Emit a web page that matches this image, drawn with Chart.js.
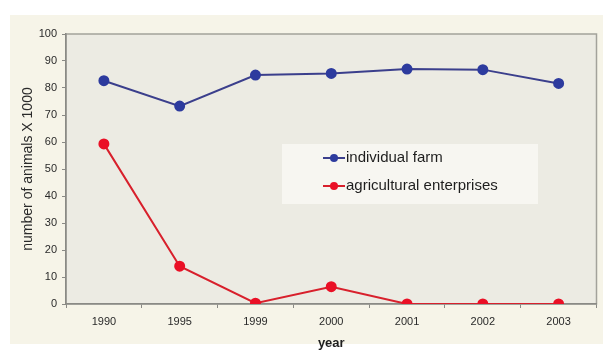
<!DOCTYPE html>
<html>
<head>
<meta charset="utf-8">
<script src="https://cdn.jsdelivr.net/npm/chart.js@4.4.1/dist/chart.umd.min.js"></script>
<style>
  html, body { margin: 0; padding: 0; background: #ffffff; }
  #wrap { width: 603px; height: 354px; }
</style>
</head>
<body>
<div id="wrap"><canvas id="animalsChart" width="603" height="354"></canvas></div>
<script>
// years on the x axis
const years = ['1990', '1995', '1999', '2000', '2001', '2002', '2003'];
// number of animals (thousands)
const individualFarm = [82.7, 73.3, 84.8, 85.4, 87.0, 86.8, 81.7];
const agriculturalEnterprises = [59.3, 14.0, 0.3, 6.4, 0, 0, 0];
const yTicks = [0, 10, 20, 30, 40, 50, 60, 70, 80, 90, 100];

const FONT = '"Liberation Sans", Arial, sans-serif';

// page background, cream frame and shaded plot area
const backdrop = {
	id: 'backdrop',
	beforeDraw(chart) {
		const { ctx, chartArea: a } = chart;
		ctx.save();
		ctx.fillStyle = '#ffffff';
		ctx.fillRect(0, 0, chart.width, chart.height);
		ctx.fillStyle = '#f6f4e8';
		ctx.fillRect(10, 15, chart.width - 10, 329);
		ctx.fillStyle = '#ecebe3';
		ctx.fillRect(a.left, a.top, a.right - a.left, a.bottom - a.top);
		ctx.strokeStyle = '#a3a29b';
		ctx.lineWidth = 1.5;
		ctx.strokeRect(a.left, a.top, a.right - a.left, a.bottom - a.top);
		ctx.restore();
	}
};

// legend box drawn inside the plot
const boxLegend = {
	id: 'boxLegend',
	afterDatasetsDraw(chart) {
		const { ctx } = chart;
		ctx.save();
		ctx.fillStyle = 'rgba(248,247,242,0.9)';
		ctx.fillRect(282, 144, 256, 60);
		ctx.font = '15px ' + FONT;
		ctx.textBaseline = 'middle';
		const rows = [158, 186];
		chart.data.datasets.forEach((ds, i) => {
			const y = rows[i];
			ctx.strokeStyle = ds.borderColor;
			ctx.lineWidth = 2;
			ctx.beginPath();
			ctx.moveTo(323, y);
			ctx.lineTo(345, y);
			ctx.stroke();
			ctx.fillStyle = ds.pointBackgroundColor;
			ctx.beginPath();
			ctx.arc(334, y, 4, 0, Math.PI * 2);
			ctx.fill();
			ctx.fillStyle = '#1e1e1e';
			ctx.fillText(ds.label, 346, y);
		});
		ctx.restore();
	}
};

new Chart(document.getElementById('animalsChart'), {
	type: 'line',
	data: {
		labels: years,
		datasets: [{
			label: 'individual farm',
			data: individualFarm,
			borderColor: '#3b3f8c',
			borderWidth: 2,
			pointBackgroundColor: '#2d3b9e',
			pointBorderColor: '#2d3b9e',
			pointRadius: 4.5,
			tension: 0
		},
		{
			label: 'agricultural enterprises',
			data: agriculturalEnterprises,
			borderColor: '#d8202c',
			borderWidth: 2,
			pointBackgroundColor: '#ea1026',
			pointBorderColor: '#ea1026',
			pointRadius: 4.5,
			tension: 0
		}]
	},
	options: {
		responsive: false,
		animation: false,
		layout: { padding: { left: 0, top: 34, right: 5, bottom: 0 } },
		plugins: {
			legend: { display: false },
			tooltip: { enabled: false }
		},
		scales: {
			x: {
				offset: true,
				afterFit: (scale) => { scale.height = 50; },
				grid: { offset: true, drawOnChartArea: false, drawTicks: true, tickLength: 4, color: '#8a8a85' },
				border: { color: '#8a8a85', width: 1.5 },
				ticks: { color: '#2a2a2a', font: { family: FONT, size: 11 }, padding: 7, maxRotation: 0 },
				title: { display: true, text: 'year', color: '#1e1e1e', font: { family: FONT, size: 13, weight: 'bold' }, padding: { top: 0, bottom: 3 } }
			},
			y: {
				min: 0,
				max: 100,
				afterFit: (scale) => { scale.width = 66; },
				afterBuildTicks: (scale) => { scale.ticks = yTicks.map(v => ({ value: v })); },
				grid: { drawOnChartArea: false, drawTicks: true, tickLength: 4, color: '#8a8a85' },
				border: { color: '#8a8a85', width: 1.5 },
				ticks: { color: '#2a2a2a', font: { family: FONT, size: 11 }, padding: 5 },
				title: { display: true, text: 'number of animals X 1000', color: '#2a2a2a', font: { family: FONT, size: 14 }, padding: { top: 20, bottom: 0 } }
			}
		}
	},
	plugins: [backdrop, boxLegend]
});
</script>
</body>
</html>
